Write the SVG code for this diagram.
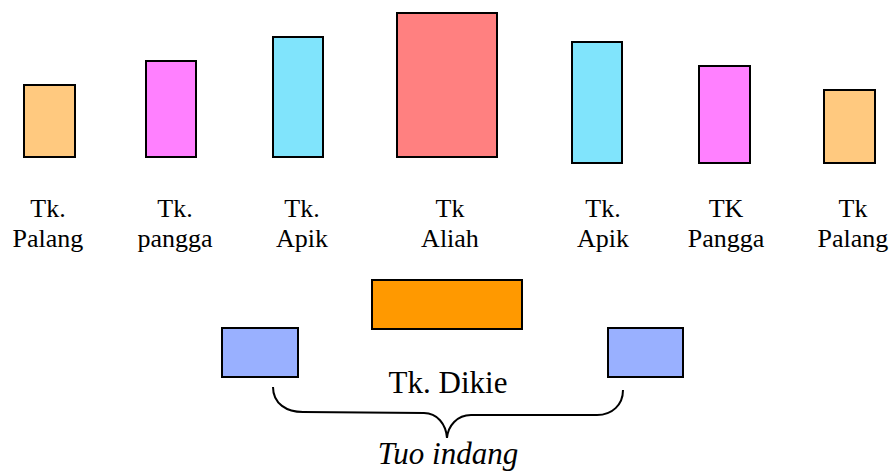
<svg xmlns="http://www.w3.org/2000/svg" width="894" height="472" viewBox="0 0 894 472">
  <style>
    .box { stroke: #000; stroke-width: 2; }
    .palang { fill: #FFC97F; }
    .pangga { fill: #FF80FF; }
    .apik { fill: #80E4FC; }
    .aliah { fill: #FF8080; }
    .dikie { fill: #FF9900; }
    .indang { fill: #99B0FF; }
  </style>
  <rect width="894" height="472" fill="#fff"/>

  <g id="tk-palang-left">
    <rect class="box palang" x="24" y="85" width="51" height="72"/>
    <text x="48" y="217" font-family="Liberation Serif, serif" font-size="26" text-anchor="middle">Tk.</text>
    <text x="48" y="247" font-family="Liberation Serif, serif" font-size="26" text-anchor="middle">Palang</text>
  </g>
  <g id="tk-pangga-left">
    <rect class="box pangga" x="146" y="61" width="50" height="96"/>
    <text x="175" y="217" font-family="Liberation Serif, serif" font-size="26" text-anchor="middle">Tk.</text>
    <text x="175" y="247" font-family="Liberation Serif, serif" font-size="26" text-anchor="middle">pangga</text>
  </g>
  <g id="tk-apik-left">
    <rect class="box apik" x="273" y="37" width="50" height="120"/>
    <text x="302" y="217" font-family="Liberation Serif, serif" font-size="26" text-anchor="middle">Tk.</text>
    <text x="302" y="247" font-family="Liberation Serif, serif" font-size="26" text-anchor="middle">Apik</text>
  </g>
  <g id="tk-aliah">
    <rect class="box aliah" x="397" y="13" width="100" height="144"/>
    <text x="450" y="217" font-family="Liberation Serif, serif" font-size="26" text-anchor="middle">Tk</text>
    <text x="450" y="247" font-family="Liberation Serif, serif" font-size="26" text-anchor="middle">Aliah</text>
  </g>
  <g id="tk-apik-right">
    <rect class="box apik" x="572" y="42" width="50" height="121"/>
    <text x="603" y="217" font-family="Liberation Serif, serif" font-size="26" text-anchor="middle">Tk.</text>
    <text x="603" y="247" font-family="Liberation Serif, serif" font-size="26" text-anchor="middle">Apik</text>
  </g>
  <g id="tk-pangga-right">
    <rect class="box pangga" x="699" y="66" width="51" height="97"/>
    <text x="726" y="217" font-family="Liberation Serif, serif" font-size="26" text-anchor="middle">TK</text>
    <text x="726" y="247" font-family="Liberation Serif, serif" font-size="26" text-anchor="middle">Pangga</text>
  </g>
  <g id="tk-palang-right">
    <rect class="box palang" x="824" y="90" width="51" height="73"/>
    <text x="853" y="217" font-family="Liberation Serif, serif" font-size="26" text-anchor="middle">Tk</text>
    <text x="853" y="247" font-family="Liberation Serif, serif" font-size="26" text-anchor="middle">Palang</text>
  </g>

  <g id="tk-dikie">
    <rect class="box dikie" x="372" y="280" width="150" height="49"/>
    <text x="448" y="393" font-family="Liberation Serif, serif" font-size="31" text-anchor="middle">Tk. Dikie</text>
  </g>
  <g id="tuo-indang-left">
    <rect class="box indang" x="222" y="328" width="76" height="49"/>
  </g>
  <g id="tuo-indang-right">
    <rect class="box indang" x="608" y="328" width="75" height="49"/>
  </g>

  <g id="connectors">
    <path d="M273,387 C273,404 287,412 303,412 L424,413 C437,413 446,424 447,438 C448,426 457,415 471,415 L597,415 C612,415 623,405 623,390" fill="none" stroke="#000" stroke-width="2"/>
  </g>
  <text x="448" y="464" font-family="Liberation Serif, serif" font-size="31" font-style="italic" text-anchor="middle">Tuo indang</text>
</svg>
